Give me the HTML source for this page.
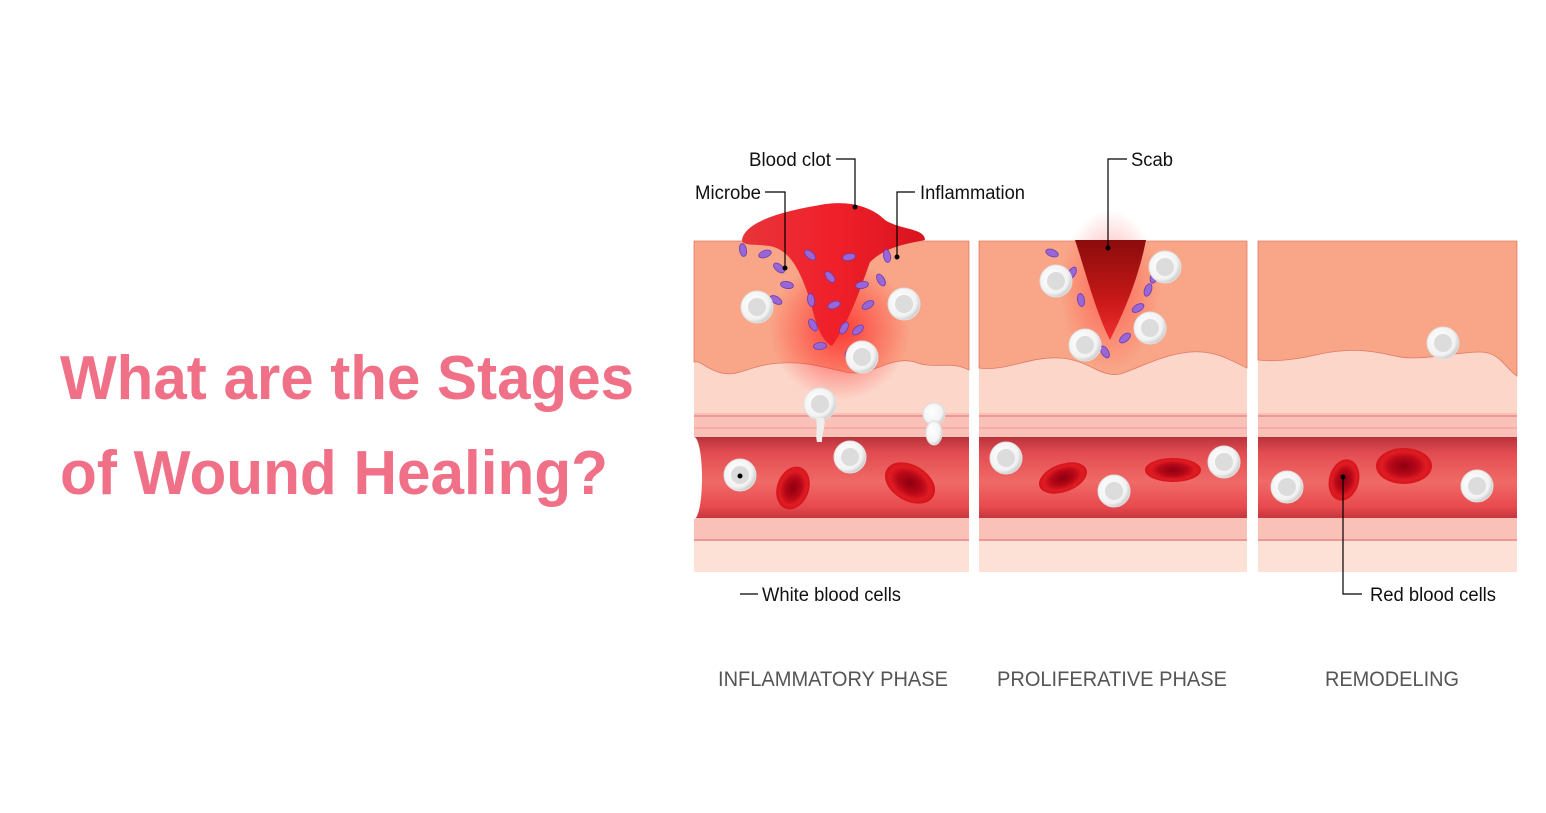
<!DOCTYPE html>
<html><head><meta charset="utf-8"><style>
html,body{margin:0;padding:0;background:#fff;}
svg{display:block;}
</style></head><body>
<svg width="1546" height="813" viewBox="0 0 1546 813" xmlns="http://www.w3.org/2000/svg" font-family="Liberation Sans, sans-serif">
<defs>
<linearGradient id="ves" x1="0" y1="0" x2="0" y2="1">
<stop offset="0" stop-color="#b8323c"/><stop offset="0.2" stop-color="#e34d52"/><stop offset="0.55" stop-color="#f06a66"/><stop offset="0.85" stop-color="#e84a4e"/><stop offset="1" stop-color="#c2343c"/>
</linearGradient>
<radialGradient id="wbc" cx="0.4" cy="0.4" r="0.6"><stop offset="0" stop-color="#ffffff"/><stop offset="0.8" stop-color="#f2f2f2"/><stop offset="1" stop-color="#d0d0d0"/></radialGradient>
<radialGradient id="rbc" cx="0.5" cy="0.5" r="0.5"><stop offset="0" stop-color="#8c0010"/><stop offset="0.5" stop-color="#b80818"/><stop offset="0.8" stop-color="#e01c22"/><stop offset="1" stop-color="#d4141c"/></radialGradient>
<radialGradient id="infl" cx="0.5" cy="0.5" r="0.5"><stop offset="0" stop-color="#ff2020" stop-opacity="0.8"/><stop offset="1" stop-color="#ff2020" stop-opacity="0"/></radialGradient>
<linearGradient id="clot" x1="0" y1="0" x2="1" y2="0"><stop offset="0" stop-color="#e8343a"/><stop offset="0.5" stop-color="#f0202a"/><stop offset="1" stop-color="#d8141e"/></linearGradient>
<linearGradient id="scab" x1="0" y1="0" x2="0" y2="1"><stop offset="0" stop-color="#8a0c0c"/><stop offset="0.6" stop-color="#c81818"/><stop offset="1" stop-color="#f03030"/></linearGradient>
<g id="w"><circle r="16" fill="url(#wbc)" stroke="#e0e0e0" stroke-width="1"/><circle r="9" fill="#dcdcdc"/></g>
<g id="m"><ellipse rx="6.5" ry="3.5" fill="#9866d6" stroke="#6a3eb0" stroke-width="0.8"/></g>
</defs>

<!-- Title -->
<g fill="#ef7087" font-weight="bold" font-size="62">
<text x="60" y="399" textLength="574" lengthAdjust="spacingAndGlyphs">What are the Stages</text>
<text x="60" y="494" textLength="548" lengthAdjust="spacingAndGlyphs">of Wound Healing?</text>
</g>

<!-- Panels base -->
<g id="p1">
<rect x="694" y="241" width="275" height="331" fill="#fde0d6"/>
<rect x="694" y="241" width="275" height="175" fill="#fcd6c9"/>
<path d="M694 241 H969 V370 C950 360 935 370 915 362 C890 355 870 378 845 372 C820 366 800 360 770 364 C745 368 735 378 718 372 C705 368 700 360 694 362 Z" fill="#f9a587" stroke="#e07a68" stroke-width="0.8"/>
<rect x="694" y="413" width="275" height="25" fill="#f9c1b8"/>
<line x1="694" y1="416" x2="969" y2="416" stroke="#e46f6f" stroke-width="1"/>
<line x1="694" y1="428" x2="969" y2="428" stroke="#ef9a98" stroke-width="1"/>
<rect x="694" y="437" width="275" height="82" fill="url(#ves)"/>
<rect x="694" y="518" width="275" height="23" fill="#f9c1b8"/>
<line x1="694" y1="540" x2="969" y2="540" stroke="#e46f6f" stroke-width="1"/>
<ellipse cx="694" cy="478" rx="8" ry="41" fill="#fff"/>
<ellipse cx="840" cy="330" rx="70" ry="70" fill="url(#infl)"/>
<path d="M742 240 C745 220 790 210 820 205 C845 200 870 205 885 220 C900 230 925 228 925 240 C900 245 885 248 870 262 C860 290 850 320 832 346 C820 340 815 320 810 300 C800 270 790 250 770 246 C755 244 742 246 742 240 Z" fill="url(#clot)"/>
</g>
<g id="p2">
<rect x="979" y="241" width="268" height="331" fill="#fde0d6"/>
<rect x="979" y="241" width="268" height="175" fill="#fcd6c9"/>
<path d="M979 241 H1247 V368 C1230 360 1215 350 1190 352 C1160 355 1140 368 1120 374 C1100 378 1090 360 1060 358 C1030 356 1005 372 979 368 Z" fill="#f9a587" stroke="#e07a68" stroke-width="0.8"/>
<rect x="979" y="413" width="268" height="25" fill="#f9c1b8"/>
<line x1="979" y1="416" x2="1247" y2="416" stroke="#e46f6f" stroke-width="1"/>
<line x1="979" y1="428" x2="1247" y2="428" stroke="#ef9a98" stroke-width="1"/>
<rect x="979" y="437" width="268" height="82" fill="url(#ves)"/>
<rect x="979" y="518" width="268" height="23" fill="#f9c1b8"/>
<line x1="979" y1="540" x2="1247" y2="540" stroke="#e46f6f" stroke-width="1"/>
<ellipse cx="1110" cy="290" rx="50" ry="80" fill="url(#infl)" opacity="0.6"/>
<path d="M1075 240 H1146 C1140 270 1130 300 1110 340 C1095 310 1085 270 1075 240 Z" fill="url(#scab)"/>
</g>
<g id="p3">
<rect x="1258" y="241" width="259" height="331" fill="#fde0d6"/>
<rect x="1258" y="241" width="259" height="175" fill="#fcd6c9"/>
<path d="M1258 241 H1517 V376 C1505 368 1500 352 1480 352 C1455 352 1420 362 1395 356 C1370 350 1350 348 1320 354 C1295 360 1275 362 1258 360 Z" fill="#f9a587" stroke="#e07a68" stroke-width="0.8"/>
<rect x="1258" y="413" width="259" height="25" fill="#f9c1b8"/>
<line x1="1258" y1="416" x2="1517" y2="416" stroke="#e46f6f" stroke-width="1"/>
<line x1="1258" y1="428" x2="1517" y2="428" stroke="#ef9a98" stroke-width="1"/>
<rect x="1258" y="437" width="259" height="82" fill="url(#ves)"/>
<rect x="1258" y="518" width="259" height="23" fill="#f9c1b8"/>
<line x1="1258" y1="540" x2="1517" y2="540" stroke="#e46f6f" stroke-width="1"/>
</g>

<!-- Microbes -->
<g>
<use href="#m" transform="translate(743,250) rotate(80)"/>
<use href="#m" transform="translate(765,254) rotate(-20)"/>
<use href="#m" transform="translate(779,268) rotate(40)"/>
<use href="#m" transform="translate(787,285) rotate(10)"/>
<use href="#m" transform="translate(776,300) rotate(30)"/>
<use href="#m" transform="translate(810,255) rotate(40)"/>
<use href="#m" transform="translate(849,257) rotate(-10)"/>
<use href="#m" transform="translate(887,256) rotate(80)"/>
<use href="#m" transform="translate(830,277) rotate(50)"/>
<use href="#m" transform="translate(862,285) rotate(-10)"/>
<use href="#m" transform="translate(881,280) rotate(60)"/>
<use href="#m" transform="translate(811,300) rotate(80)"/>
<use href="#m" transform="translate(834,305) rotate(-20)"/>
<use href="#m" transform="translate(868,305) rotate(-30)"/>
<use href="#m" transform="translate(813,325) rotate(60)"/>
<use href="#m" transform="translate(844,328) rotate(-60)"/>
<use href="#m" transform="translate(858,330) rotate(-40)"/>
<use href="#m" transform="translate(820,346) rotate(-5)"/>
<use href="#m" transform="translate(850,352) rotate(-50)"/>
<use href="#m" transform="translate(1052,253) rotate(20)"/>
<use href="#m" transform="translate(1072,273) rotate(-60)"/>
<use href="#m" transform="translate(1081,300) rotate(80)"/>
<use href="#m" transform="translate(1154,277) rotate(-70)"/>
<use href="#m" transform="translate(1148,290) rotate(-70)"/>
<use href="#m" transform="translate(1138,308) rotate(-30)"/>
<use href="#m" transform="translate(1125,338) rotate(-40)"/>
<use href="#m" transform="translate(1105,352) rotate(60)"/>
</g>

<!-- White cells -->
<use href="#w" x="757" y="307"/>
<use href="#w" x="904" y="304"/>
<use href="#w" x="862" y="357"/>
<use href="#w" x="820" y="404"/>
<path d="M816 418 C818 428 815 435 817 442 L822 442 C822 432 826 425 824 418 Z" fill="#eee"/>
<circle cx="934" cy="414" r="11" fill="url(#wbc)" stroke="#ddd"/>
<ellipse cx="934" cy="433" rx="8" ry="12" fill="url(#wbc)" stroke="#ddd"/>
<use href="#w" x="850" y="457"/>
<use href="#w" x="740" y="475"/>
<circle cx="740" cy="476" r="2.5" fill="#000"/>
<use href="#w" x="1056" y="281"/>
<use href="#w" x="1165" y="267"/>
<use href="#w" x="1085" y="345"/>
<use href="#w" x="1150" y="328"/>
<use href="#w" x="1006" y="458"/>
<use href="#w" x="1114" y="491"/>
<use href="#w" x="1224" y="462"/>
<use href="#w" x="1443" y="343"/>
<use href="#w" x="1287" y="487"/>
<use href="#w" x="1477" y="486"/>

<!-- Red cells -->
<ellipse cx="793" cy="488" rx="16" ry="22" transform="rotate(20 793 488)" fill="url(#rbc)"/>
<ellipse cx="910" cy="483" rx="27" ry="18" transform="rotate(30 910 483)" fill="url(#rbc)"/>
<ellipse cx="1063" cy="478" rx="25" ry="14" transform="rotate(-20 1063 478)" fill="url(#rbc)"/>
<ellipse cx="1173" cy="470" rx="28" ry="12" fill="url(#rbc)"/>
<ellipse cx="1344" cy="480" rx="15" ry="21" transform="rotate(15 1344 480)" fill="url(#rbc)"/>
<ellipse cx="1404" cy="466" rx="28" ry="18" fill="url(#rbc)"/>

<!-- Leader lines -->
<g stroke="#000" stroke-width="1.2" fill="none">
<path d="M836 159 H855 V207"/>
<path d="M765 192 H785 V268"/>
<path d="M915 192 H897 V257"/>
<path d="M1127 159 H1108 V248"/>
<path d="M740 594 H758"/>
<path d="M1343 477 V594 H1362"/>
</g>
<g fill="#000">
<circle cx="855" cy="207" r="2.5"/><circle cx="785" cy="268" r="2.5"/><circle cx="897" cy="257" r="2.5"/><circle cx="1108" cy="248" r="2.5"/><circle cx="1343" cy="477" r="2.5"/>
</g>
<g font-size="19" fill="#111">
<text x="749" y="166" textLength="82" lengthAdjust="spacingAndGlyphs">Blood clot</text>
<text x="695" y="199" textLength="66" lengthAdjust="spacingAndGlyphs">Microbe</text>
<text x="920" y="199" textLength="105" lengthAdjust="spacingAndGlyphs">Inflammation</text>
<text x="1131" y="166" textLength="42" lengthAdjust="spacingAndGlyphs">Scab</text>
<text x="762" y="601" textLength="139" lengthAdjust="spacingAndGlyphs">White blood cells</text>
<text x="1370" y="601" textLength="126" lengthAdjust="spacingAndGlyphs">Red blood cells</text>
</g>
<g font-size="21" fill="#555">
<text x="718" y="686" textLength="230" lengthAdjust="spacingAndGlyphs">INFLAMMATORY PHASE</text>
<text x="997" y="686" textLength="230" lengthAdjust="spacingAndGlyphs">PROLIFERATIVE PHASE</text>
<text x="1325" y="686" textLength="134" lengthAdjust="spacingAndGlyphs">REMODELING</text>
</g>
</svg>
</body></html>
